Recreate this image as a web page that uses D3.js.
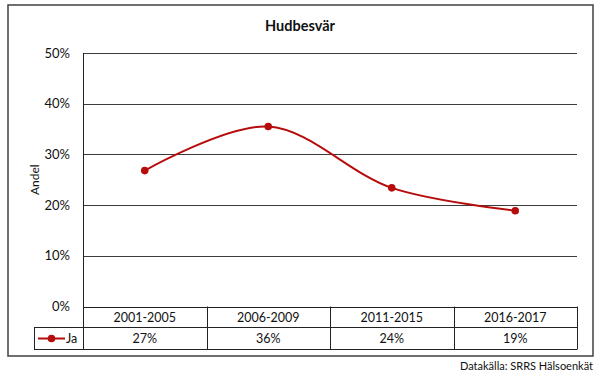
<!DOCTYPE html>
<html><head><meta charset="utf-8">
<script src="https://cdn.jsdelivr.net/npm/d3@7"></script>
<style>body{margin:0;background:#fff}svg{display:block}text{font-family:Lato,"Open Sans",sans-serif;fill:#111}</style>
</head><body><svg id="c" width="600" height="375"></svg>
<script>
const categories = ["2001-2005","2006-2009","2011-2015","2016-2017"];
const seriesName = "Ja";
const values = [0.268, 0.355, 0.234, 0.189];
const tableLabels = ["27%","36%","24%","19%"];
const yTicks = [0, 0.1, 0.2, 0.3, 0.4, 0.5];
const title = "Hudbesvär";
const yTitle = "Andel";
const source = "Datakälla: SRRS Hälsoenkät";

const svg = d3.select("#c");
const L = 83, R = 577, T = 53, B = 306.5;
const row1 = 327.5, row2 = 349.5, legL = 34;
const red = "#b70c0c";

svg.append("rect").attr("x",8).attr("y",5).attr("width",585).attr("height",351)
  .attr("fill","#fff").attr("stroke","#404040").attr("stroke-width",1.5);

const x = d3.scaleBand().domain(categories).range([L,R]);
const y = d3.scaleLinear().domain([0,0.5]).range([B,T]);

// gridlines
svg.append("g").selectAll("line").data(yTicks).join("line")
  .attr("x1",L).attr("x2",R).attr("y1",d=>Math.round(y(d))+0.5).attr("y2",d=>Math.round(y(d))+0.5)
  .attr("stroke","#3c3c3c").attr("stroke-width",1);

// y axis via d3 axis
const ya = svg.append("g").attr("transform",`translate(${L},0)`)
  .call(d3.axisLeft(y).tickValues(yTicks).tickFormat(d3.format(".0%")).tickSize(0).tickPadding(13));
ya.select(".domain").remove();
ya.selectAll("text").attr("font-size",13).style("font-family","Lato,'Open Sans',sans-serif").attr("fill","#111");

// plot left border extended through table
svg.append("line").attr("x1",L+0.5).attr("x2",L+0.5).attr("y1",T).attr("y2",row2).attr("stroke","#222");

// table
const tg = svg.append("g").attr("stroke","#222").attr("stroke-width",1);
tg.append("line").attr("x1",L).attr("x2",R).attr("y1",Math.round(B)+0.5).attr("y2",Math.round(B)+0.5);
tg.append("line").attr("x1",legL).attr("x2",R).attr("y1",row1).attr("y2",row1);
tg.append("line").attr("x1",legL).attr("x2",R).attr("y1",row2).attr("y2",row2);
tg.append("line").attr("x1",legL+0.5).attr("x2",legL+0.5).attr("y1",row1).attr("y2",row2);
tg.selectAll(".sep").data(categories).join("line").attr("class","sep")
  .attr("x1",d=>Math.round(x(d)+x.bandwidth())+0.5).attr("x2",d=>Math.round(x(d)+x.bandwidth())+0.5)
  .attr("y1",B).attr("y2",row2);

svg.selectAll(".cat").data(categories).join("text").attr("class","cat")
  .attr("x",d=>x(d)+x.bandwidth()/2).attr("y",321.5).attr("text-anchor","middle")
  .attr("font-size",12.5).text(d=>d);
svg.selectAll(".val").data(tableLabels).join("text").attr("class","val")
  .attr("x",(d,i)=>x(categories[i])+x.bandwidth()/2).attr("y",343).attr("text-anchor","middle")
  .attr("font-size",12.5).text(d=>d);

// legend key
svg.append("line").attr("x1",38).attr("x2",65).attr("y1",338.5).attr("y2",338.5).attr("stroke",red).attr("stroke-width",2);
svg.append("circle").attr("cx",51.5).attr("cy",338.5).attr("r",3.8).attr("fill",red);
svg.append("text").attr("x",66).attr("y",343).attr("font-size",12.5).text(seriesName);

// line
const pts = values.map((v,i)=>[x(categories[i])+x.bandwidth()/2, y(v)]);
svg.append("path").attr("d",d3.line().curve(d3.curveCatmullRom.alpha(0.5))(pts))
  .attr("fill","none").attr("stroke",red).attr("stroke-width",2);
svg.selectAll(".pt").data(pts).join("circle").attr("class","pt")
  .attr("cx",d=>d[0]).attr("cy",d=>d[1]).attr("r",3.8).attr("fill",red);

// titles
svg.append("text").attr("x",300).attr("y",31).attr("text-anchor","middle")
  .attr("font-size",14.5).attr("font-weight","bold").text(title);
svg.append("text").attr("transform",`translate(39,${(T+B)/2}) rotate(-90)`).attr("text-anchor","middle")
  .attr("font-size",12).text(yTitle);
svg.append("text").attr("x",593).attr("y",370).attr("text-anchor","end")
  .attr("font-size",11).attr("fill","#1a2a1a").text(source);
</script></body></html>
